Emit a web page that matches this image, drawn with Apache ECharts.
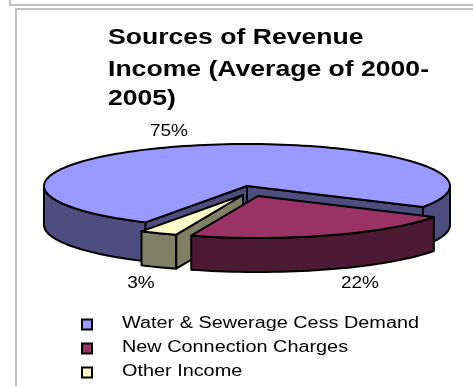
<!DOCTYPE html>
<html>
<head>
<meta charset="utf-8">
<style>html,body{margin:0;padding:0;background:#fff}#c{width:473px;height:386px}</style>
<script src="https://cdn.jsdelivr.net/npm/echarts@6/dist/echarts.min.js"></script>
</head>
<body>
<div id="c"></div>
<script>
// Revenue shares, in percent
const categories = ['Water & Sewerage Cess Demand', 'New Connection Charges', 'Other Income'];
const shares = [75, 22, 3];
const titleLines = ['Sources of Revenue', 'Income (Average of 2000-', '2005)'];

// Slice styling, in the same order as the categories
const topColors = ['#9999FF', '#993366', '#FFFFCC'];
const wallColors = ['#4D4D80', '#4D1A33', '#808066'];

// Tilted-disc geometry
const CX = 247, CY = 186, RX = 203, RY = 42;
const START_DEG = 120;
const explode = [[0, 0], [11, 10], [-4, 9]];
const depth = [39, 34, 34];
const labelPos = [[169, 132], [360, 284], [141, 284]];
const paintOrder = [0, 2, 1];

// Text is set wide, so each block gets its own horizontal stretch
const TITLE_STRETCH = 1.208, TITLE_Y = [38, 70, 99];
const LABEL_STRETCH = 1.19;
const LEGEND_STRETCH = 1.24, LEGEND_Y = [324.5, 348.5, 372.5];

const total = shares.reduce((a, b) => a + b, 0);
const spans = [];
shares.reduce((from, v) => {
  const to = from + v / total * 360;
  spans.push([from, to]);
  return to;
}, START_DEG);

function arc(i, a, b) {
  const pts = [];
  const n = Math.max(2, Math.ceil(Math.abs(b - a) / 2));
  for (let k = 0; k <= n; k++) {
    const t = (a + (b - a) * k / n) * Math.PI / 180;
    pts.push([CX + explode[i][0] + RX * Math.cos(t), CY + explode[i][1] + RY * Math.sin(t)]);
  }
  return pts;
}

const lower = (pts, d) => pts.map(p => [p[0], p[1] + d]).reverse();

function poly(points, fill, z2) {
  return {
    type: 'polygon', z2,
    shape: { points },
    style: { fill, stroke: '#000', lineWidth: 2, lineJoin: 'round' }
  };
}

// Parts of the rim that face the viewer (lower half of the ellipse)
function frontRanges(a, b) {
  const out = [];
  for (let k = 0; k < 3; k++) {
    const lo = Math.max(a, k * 360), hi = Math.min(b, k * 360 + 180);
    if (hi > lo) out.push([lo, hi]);
  }
  return out;
}

function renderSlice(i, value) {
  const [a, b] = spans[i];
  const d = depth[i];
  const apex = [CX + explode[i][0], CY + explode[i][1]];
  const kids = [];
  frontRanges(a, b).forEach(([lo, hi]) => {
    const rim = arc(i, lo, hi);
    kids.push(poly(rim.concat(lower(rim, d)), wallColors[i], 1));
  });
  const cutFace = angle => {
    const edge = arc(i, angle, angle)[0];
    return poly([apex, edge, [edge[0], edge[1] + d], [apex[0], apex[1] + d]], wallColors[i], 2);
  };
  if (i === 0) { kids.push(cutFace(a)); kids.push(cutFace(b)); }
  if (i === 2) { kids.push(cutFace(a)); }
  kids.push(poly([apex].concat(arc(i, a, b)), topColors[i], 3));
  kids.push({
    type: 'text', z2: 5,
    x: labelPos[i][0], y: labelPos[i][1], scaleX: LABEL_STRETCH,
    style: { text: value + '%', fill: '#000', font: '16px "Liberation Sans"', align: 'center', verticalAlign: 'middle' }
  });
  return { type: 'group', children: kids };
}

const frameLine = points => ({
  type: 'polyline', silent: true, shape: { points },
  style: { fill: 'none', stroke: '#BFBFBF', lineWidth: 2 }
});

const titleText = titleLines.map((text, k) => ({
  type: 'text', silent: true, x: 108, y: TITLE_Y[k], scaleX: TITLE_STRETCH,
  style: { text, fill: '#000', font: 'bold 22px "Liberation Sans"', align: 'left', verticalAlign: 'middle' }
}));

const legendItems = categories.flatMap((text, k) => [
  {
    type: 'rect', silent: true,
    shape: { x: 82, y: LEGEND_Y[k] - 5, width: 10, height: 10 },
    style: { fill: topColors[k], stroke: '#000', lineWidth: 2 }
  },
  {
    type: 'text', silent: true, x: 122, y: LEGEND_Y[k] - 1, scaleX: LEGEND_STRETCH,
    style: { text, fill: '#000', font: '16px "Liberation Sans"', align: 'left', verticalAlign: 'middle' }
  }
]);

const chart = echarts.init(document.getElementById('c'), null, { renderer: 'canvas' });
chart.setOption({
  animation: false,
  backgroundColor: '#fff',
  graphic: [
    frameLine([[10, 0], [10, 5], [473, 5]]),
    frameLine([[16, 386], [16, 9], [473, 9]]),
    ...titleText,
    ...legendItems
  ],
  series: paintOrder.map((i, order) => ({
    type: 'custom',
    name: categories[i],
    coordinateSystem: 'none',
    silent: true,
    z: 2 + order,
    data: [[shares[i]]],
    renderItem: (params, api) => renderSlice(i, api.value(0))
  }))
});
</script>
</body>
</html>
